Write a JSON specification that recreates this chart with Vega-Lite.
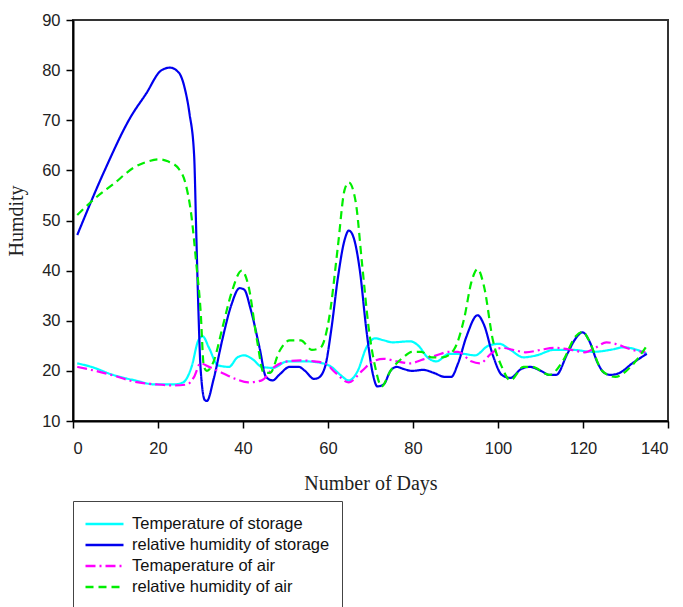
{
  "$schema": "https://vega.github.io/schema/vega-lite/v6.json",
  "width": 595,
  "height": 401,
  "autosize": {"type": "none"},
  "padding": {"left": 73, "top": 20, "right": 15, "bottom": 186},
  "background": "white",
  "config": {
    "view": {"stroke": "#333", "strokeWidth": 2},
    "axis": {
      "grid": false,
      "domainColor": "#000",
      "domainWidth": 2,
      "tickColor": "#000",
      "tickWidth": 1.5,
      "tickSize": 7,
      "labelFont": "Liberation Sans",
      "labelFontSize": 16.5,
      "labelColor": "#222",
      "titleFont": "Liberation Serif",
      "titleFontSize": 20,
      "titleFontWeight": "normal",
      "titleColor": "#222"
    }
  },
  "data": {"values": [
    {"series": "Temperature of storage", "day": 1, "value": 21.5},
    {"series": "Temperature of storage", "day": 4.3, "value": 20.8},
    {"series": "Temperature of storage", "day": 9.4, "value": 19.2},
    {"series": "Temperature of storage", "day": 14.6, "value": 18.1},
    {"series": "Temperature of storage", "day": 19.2, "value": 17.3},
    {"series": "Temperature of storage", "day": 23.8, "value": 17.3},
    {"series": "Temperature of storage", "day": 25.9, "value": 17.7},
    {"series": "Temperature of storage", "day": 27.9, "value": 20.8},
    {"series": "Temperature of storage", "day": 29.5, "value": 26.1},
    {"series": "Temperature of storage", "day": 30.5, "value": 26.9},
    {"series": "Temperature of storage", "day": 32, "value": 24.6},
    {"series": "Temperature of storage", "day": 34.1, "value": 21.1},
    {"series": "Temperature of storage", "day": 36.7, "value": 20.8},
    {"series": "Temperature of storage", "day": 38.7, "value": 22.7},
    {"series": "Temperature of storage", "day": 40.3, "value": 23.1},
    {"series": "Temperature of storage", "day": 42.3, "value": 22.3},
    {"series": "Temperature of storage", "day": 44.4, "value": 20.8},
    {"series": "Temperature of storage", "day": 47, "value": 20.6},
    {"series": "Temperature of storage", "day": 50.5, "value": 21.9},
    {"series": "Temperature of storage", "day": 54.6, "value": 21.9},
    {"series": "Temperature of storage", "day": 58.8, "value": 21.5},
    {"series": "Temperature of storage", "day": 60.8, "value": 20.8},
    {"series": "Temperature of storage", "day": 62.9, "value": 19.2},
    {"series": "Temperature of storage", "day": 64.9, "value": 18.1},
    {"series": "Temperature of storage", "day": 67, "value": 20},
    {"series": "Temperature of storage", "day": 69, "value": 24.6},
    {"series": "Temperature of storage", "day": 71.1, "value": 26.5},
    {"series": "Temperature of storage", "day": 73.1, "value": 26.1},
    {"series": "Temperature of storage", "day": 75.2, "value": 25.7},
    {"series": "Temperature of storage", "day": 79.3, "value": 25.9},
    {"series": "Temperature of storage", "day": 81.3, "value": 25},
    {"series": "Temperature of storage", "day": 83.4, "value": 22.7},
    {"series": "Temperature of storage", "day": 85.5, "value": 21.9},
    {"series": "Temperature of storage", "day": 88.5, "value": 23.4},
    {"series": "Temperature of storage", "day": 91.6, "value": 23.4},
    {"series": "Temperature of storage", "day": 94.6, "value": 23.1},
    {"series": "Temperature of storage", "day": 97.7, "value": 25},
    {"series": "Temperature of storage", "day": 100.3, "value": 25.4},
    {"series": "Temperature of storage", "day": 102.9, "value": 24.2},
    {"series": "Temperature of storage", "day": 106, "value": 22.7},
    {"series": "Temperature of storage", "day": 109.1, "value": 23.1},
    {"series": "Temperature of storage", "day": 113.2, "value": 24.2},
    {"series": "Temperature of storage", "day": 117.3, "value": 24.2},
    {"series": "Temperature of storage", "day": 122.4, "value": 23.8},
    {"series": "Temperature of storage", "day": 126.5, "value": 24.2},
    {"series": "Temperature of storage", "day": 129.6, "value": 24.7},
    {"series": "Temperature of storage", "day": 132.7, "value": 24.2},
    {"series": "Temperature of storage", "day": 135, "value": 23.4},

    {"series": "relative humidity of storage", "day": 1, "value": 47.1},
    {"series": "relative humidity of storage", "day": 7.4, "value": 59.9},
    {"series": "relative humidity of storage", "day": 13.6, "value": 70.7},
    {"series": "relative humidity of storage", "day": 17.2, "value": 75.3},
    {"series": "relative humidity of storage", "day": 20.7, "value": 79.9},
    {"series": "relative humidity of storage", "day": 22.8, "value": 80.5},
    {"series": "relative humidity of storage", "day": 24.9, "value": 79.5},
    {"series": "relative humidity of storage", "day": 26.4, "value": 76},
    {"series": "relative humidity of storage", "day": 27.4, "value": 71.4},
    {"series": "relative humidity of storage", "day": 28.5, "value": 63},
    {"series": "relative humidity of storage", "day": 29, "value": 47.6},
    {"series": "relative humidity of storage", "day": 29.5, "value": 32.3},
    {"series": "relative humidity of storage", "day": 30, "value": 20.8},
    {"series": "relative humidity of storage", "day": 31, "value": 14.2},
    {"series": "relative humidity of storage", "day": 31.5, "value": 14},
    {"series": "relative humidity of storage", "day": 33.1, "value": 18.4},
    {"series": "relative humidity of storage", "day": 35.1, "value": 26.1},
    {"series": "relative humidity of storage", "day": 37.2, "value": 33},
    {"series": "relative humidity of storage", "day": 39.2, "value": 36.5},
    {"series": "relative humidity of storage", "day": 40.3, "value": 36.2},
    {"series": "relative humidity of storage", "day": 41.8, "value": 32.3},
    {"series": "relative humidity of storage", "day": 43.9, "value": 24.6},
    {"series": "relative humidity of storage", "day": 45.4, "value": 18.8},
    {"series": "relative humidity of storage", "day": 47, "value": 18.1},
    {"series": "relative humidity of storage", "day": 48.5, "value": 19.2},
    {"series": "relative humidity of storage", "day": 51, "value": 20.8},
    {"series": "relative humidity of storage", "day": 53.1, "value": 20.8},
    {"series": "relative humidity of storage", "day": 54.6, "value": 20},
    {"series": "relative humidity of storage", "day": 56.7, "value": 18.4},
    {"series": "relative humidity of storage", "day": 57.7, "value": 18.6},
    {"series": "relative humidity of storage", "day": 59.3, "value": 20.8},
    {"series": "relative humidity of storage", "day": 60.8, "value": 28.4},
    {"series": "relative humidity of storage", "day": 62.3, "value": 38.4},
    {"series": "relative humidity of storage", "day": 63.9, "value": 46.1},
    {"series": "relative humidity of storage", "day": 64.9, "value": 48},
    {"series": "relative humidity of storage", "day": 65.9, "value": 46.9},
    {"series": "relative humidity of storage", "day": 67.5, "value": 40},
    {"series": "relative humidity of storage", "day": 69, "value": 28.4},
    {"series": "relative humidity of storage", "day": 70.6, "value": 19.2},
    {"series": "relative humidity of storage", "day": 71.6, "value": 16.9},
    {"series": "relative humidity of storage", "day": 73.1, "value": 17.3},
    {"series": "relative humidity of storage", "day": 74.7, "value": 20},
    {"series": "relative humidity of storage", "day": 76.2, "value": 20.8},
    {"series": "relative humidity of storage", "day": 77.7, "value": 20.4},
    {"series": "relative humidity of storage", "day": 79.8, "value": 20},
    {"series": "relative humidity of storage", "day": 82.4, "value": 20.2},
    {"series": "relative humidity of storage", "day": 84.9, "value": 19.6},
    {"series": "relative humidity of storage", "day": 87.5, "value": 18.8},
    {"series": "relative humidity of storage", "day": 89, "value": 18.8},
    {"series": "relative humidity of storage", "day": 90.6, "value": 21.5},
    {"series": "relative humidity of storage", "day": 92.6, "value": 26.9},
    {"series": "relative humidity of storage", "day": 95.2, "value": 31.1},
    {"series": "relative humidity of storage", "day": 96.7, "value": 29.2},
    {"series": "relative humidity of storage", "day": 98.8, "value": 23.1},
    {"series": "relative humidity of storage", "day": 100.9, "value": 19.2},
    {"series": "relative humidity of storage", "day": 102.9, "value": 18.6},
    {"series": "relative humidity of storage", "day": 105.5, "value": 20.4},
    {"series": "relative humidity of storage", "day": 107.5, "value": 20.8},
    {"series": "relative humidity of storage", "day": 110.1, "value": 20},
    {"series": "relative humidity of storage", "day": 112.1, "value": 19.2},
    {"series": "relative humidity of storage", "day": 113.7, "value": 19.2},
    {"series": "relative humidity of storage", "day": 116.3, "value": 23.4},
    {"series": "relative humidity of storage", "day": 118.3, "value": 26.5},
    {"series": "relative humidity of storage", "day": 119.9, "value": 27.7},
    {"series": "relative humidity of storage", "day": 121.4, "value": 26.1},
    {"series": "relative humidity of storage", "day": 123.5, "value": 21.5},
    {"series": "relative humidity of storage", "day": 125, "value": 19.6},
    {"series": "relative humidity of storage", "day": 126.5, "value": 19.2},
    {"series": "relative humidity of storage", "day": 128.6, "value": 19.6},
    {"series": "relative humidity of storage", "day": 131.6, "value": 21.5},
    {"series": "relative humidity of storage", "day": 135, "value": 23.4},

    {"series": "Temaperature of air", "day": 1, "value": 20.8},
    {"series": "Temaperature of air", "day": 5.3, "value": 20},
    {"series": "Temaperature of air", "day": 9.4, "value": 19.1},
    {"series": "Temaperature of air", "day": 14.6, "value": 17.8},
    {"series": "Temaperature of air", "day": 19.7, "value": 17.3},
    {"series": "Temaperature of air", "day": 23.8, "value": 17.1},
    {"series": "Temaperature of air", "day": 26.9, "value": 17.3},
    {"series": "Temaperature of air", "day": 28.5, "value": 18.8},
    {"series": "Temaperature of air", "day": 30, "value": 21.5},
    {"series": "Temaperature of air", "day": 32, "value": 20.8},
    {"series": "Temaperature of air", "day": 35.1, "value": 19.6},
    {"series": "Temaperature of air", "day": 38.2, "value": 18.4},
    {"series": "Temaperature of air", "day": 41.3, "value": 17.7},
    {"series": "Temaperature of air", "day": 44.4, "value": 18.1},
    {"series": "Temaperature of air", "day": 47.4, "value": 20.8},
    {"series": "Temaperature of air", "day": 50.5, "value": 21.9},
    {"series": "Temaperature of air", "day": 53.6, "value": 22.1},
    {"series": "Temaperature of air", "day": 56.7, "value": 21.9},
    {"series": "Temaperature of air", "day": 59.3, "value": 21.5},
    {"series": "Temaperature of air", "day": 61.8, "value": 19.6},
    {"series": "Temaperature of air", "day": 64.9, "value": 17.7},
    {"series": "Temaperature of air", "day": 68, "value": 20},
    {"series": "Temaperature of air", "day": 70.6, "value": 21.9},
    {"series": "Temaperature of air", "day": 73.1, "value": 22.4},
    {"series": "Temaperature of air", "day": 76.2, "value": 21.9},
    {"series": "Temaperature of air", "day": 79.3, "value": 21.5},
    {"series": "Temaperature of air", "day": 82.4, "value": 22.3},
    {"series": "Temaperature of air", "day": 85.5, "value": 23.1},
    {"series": "Temaperature of air", "day": 88.5, "value": 23.8},
    {"series": "Temaperature of air", "day": 90.6, "value": 23.8},
    {"series": "Temaperature of air", "day": 93.7, "value": 21.9},
    {"series": "Temaperature of air", "day": 95.8, "value": 21.5},
    {"series": "Temaperature of air", "day": 98.3, "value": 23.4},
    {"series": "Temaperature of air", "day": 100.9, "value": 24.6},
    {"series": "Temaperature of air", "day": 103.5, "value": 24.2},
    {"series": "Temaperature of air", "day": 106.5, "value": 23.7},
    {"series": "Temaperature of air", "day": 110.1, "value": 24.2},
    {"series": "Temaperature of air", "day": 113.2, "value": 24.6},
    {"series": "Temaperature of air", "day": 117.3, "value": 24.2},
    {"series": "Temaperature of air", "day": 120.4, "value": 23.7},
    {"series": "Temaperature of air", "day": 122.9, "value": 24.6},
    {"series": "Temaperature of air", "day": 125.5, "value": 25.7},
    {"series": "Temaperature of air", "day": 127.6, "value": 25.4},
    {"series": "Temaperature of air", "day": 131.6, "value": 24.2},
    {"series": "Temaperature of air", "day": 134.7, "value": 23.7},

    {"series": "relative humidity of air", "day": 1, "value": 51.1},
    {"series": "relative humidity of air", "day": 5.3, "value": 54.5},
    {"series": "relative humidity of air", "day": 9.4, "value": 57.2},
    {"series": "relative humidity of air", "day": 14.6, "value": 60.7},
    {"series": "relative humidity of air", "day": 17.7, "value": 61.8},
    {"series": "relative humidity of air", "day": 20.2, "value": 62.2},
    {"series": "relative humidity of air", "day": 22.3, "value": 61.8},
    {"series": "relative humidity of air", "day": 24.9, "value": 60.3},
    {"series": "relative humidity of air", "day": 26.4, "value": 57.6},
    {"series": "relative humidity of air", "day": 27.9, "value": 50.7},
    {"series": "relative humidity of air", "day": 29, "value": 41.5},
    {"series": "relative humidity of air", "day": 30, "value": 32.3},
    {"series": "relative humidity of air", "day": 30.8, "value": 20.8},
    {"series": "relative humidity of air", "day": 31.5, "value": 20},
    {"series": "relative humidity of air", "day": 33.1, "value": 21.9},
    {"series": "relative humidity of air", "day": 35.1, "value": 28.4},
    {"series": "relative humidity of air", "day": 37.2, "value": 35.3},
    {"series": "relative humidity of air", "day": 39.7, "value": 40},
    {"series": "relative humidity of air", "day": 41.3, "value": 36.9},
    {"series": "relative humidity of air", "day": 43.3, "value": 26.1},
    {"series": "relative humidity of air", "day": 44.9, "value": 19.6},
    {"series": "relative humidity of air", "day": 46.4, "value": 19.6},
    {"series": "relative humidity of air", "day": 48.5, "value": 23.8},
    {"series": "relative humidity of air", "day": 51, "value": 26.1},
    {"series": "relative humidity of air", "day": 53.6, "value": 26.1},
    {"series": "relative humidity of air", "day": 56.2, "value": 24.2},
    {"series": "relative humidity of air", "day": 58.2, "value": 24.6},
    {"series": "relative humidity of air", "day": 60.3, "value": 30.7},
    {"series": "relative humidity of air", "day": 62.3, "value": 44.6},
    {"series": "relative humidity of air", "day": 63.9, "value": 56.1},
    {"series": "relative humidity of air", "day": 64.9, "value": 57.6},
    {"series": "relative humidity of air", "day": 66.5, "value": 53.8},
    {"series": "relative humidity of air", "day": 68, "value": 41.5},
    {"series": "relative humidity of air", "day": 69.6, "value": 28.4},
    {"series": "relative humidity of air", "day": 71.1, "value": 20.8},
    {"series": "relative humidity of air", "day": 72.6, "value": 16.9},
    {"series": "relative humidity of air", "day": 74.7, "value": 20},
    {"series": "relative humidity of air", "day": 77.7, "value": 22.7},
    {"series": "relative humidity of air", "day": 79.8, "value": 23.8},
    {"series": "relative humidity of air", "day": 81.9, "value": 23.8},
    {"series": "relative humidity of air", "day": 84.4, "value": 22.7},
    {"series": "relative humidity of air", "day": 87, "value": 22.7},
    {"series": "relative humidity of air", "day": 89.6, "value": 24.2},
    {"series": "relative humidity of air", "day": 92.1, "value": 30.7},
    {"series": "relative humidity of air", "day": 93.7, "value": 37.6},
    {"series": "relative humidity of air", "day": 95.2, "value": 40.3},
    {"series": "relative humidity of air", "day": 96.7, "value": 36.9},
    {"series": "relative humidity of air", "day": 98.8, "value": 26.1},
    {"series": "relative humidity of air", "day": 100.9, "value": 20.8},
    {"series": "relative humidity of air", "day": 102.9, "value": 18.1},
    {"series": "relative humidity of air", "day": 106, "value": 20.8},
    {"series": "relative humidity of air", "day": 108, "value": 20.8},
    {"series": "relative humidity of air", "day": 112.1, "value": 19.2},
    {"series": "relative humidity of air", "day": 115.2, "value": 21.9},
    {"series": "relative humidity of air", "day": 118.3, "value": 26.9},
    {"series": "relative humidity of air", "day": 120, "value": 27.8},
    {"series": "relative humidity of air", "day": 121.4, "value": 26.1},
    {"series": "relative humidity of air", "day": 124.5, "value": 20},
    {"series": "relative humidity of air", "day": 127.6, "value": 18.8},
    {"series": "relative humidity of air", "day": 131.2, "value": 20.8},
    {"series": "relative humidity of air", "day": 135, "value": 25}
  ]},
  "mark": {"type": "line", "interpolate": "monotone", "strokeWidth": 2.2},
  "encoding": {
    "x": {
      "field": "day", "type": "quantitative", "title": "Number of Days",
      "scale": {"domain": [0, 140], "nice": false},
      "axis": {"values": [0, 20, 40, 60, 80, 100, 120, 140], "titlePadding": 17, "labelPadding": 12}
    },
    "y": {
      "field": "value", "type": "quantitative", "title": "Humdity",
      "scale": {"domain": [10, 90], "nice": false, "zero": false},
      "axis": {"values": [10, 20, 30, 40, 50, 60, 70, 80, 90], "titlePadding": 15, "labelPadding": 6}
    },
    "color": {
      "field": "series", "type": "nominal", "title": null,
      "sort": ["Temperature of storage", "relative humidity of storage", "Temaperature of air", "relative humidity of air"],
      "scale": {
        "domain": ["Temperature of storage", "relative humidity of storage", "Temaperature of air", "relative humidity of air"],
        "range": ["#00FFFF", "#0000EE", "#FF00FF", "#00EE00"]
      },
      "legend": {
        "orient": "none", "legendX": 0, "legendY": 481,
        "strokeColor": "#444", "padding": 12,
        "symbolType": "M-2,0H2", "symbolSize": 361, "symbolStrokeWidth": 2.5,
        "symbolOffset": 8.5, "labelOffset": 16.5, "labelLimit": 400,
        "labelFont": "Liberation Sans", "labelFontSize": 16.5, "labelColor": "#111",
        "rowPadding": 1
      }
    },
    "strokeDash": {
      "field": "series", "type": "nominal", "title": null,
      "sort": ["Temperature of storage", "relative humidity of storage", "Temaperature of air", "relative humidity of air"],
      "scale": {
        "domain": ["Temperature of storage", "relative humidity of storage", "Temaperature of air", "relative humidity of air"],
        "range": [[1, 0], [1, 0], [10, 4, 2, 4], [8, 5]]
      }
    }
  }
}
